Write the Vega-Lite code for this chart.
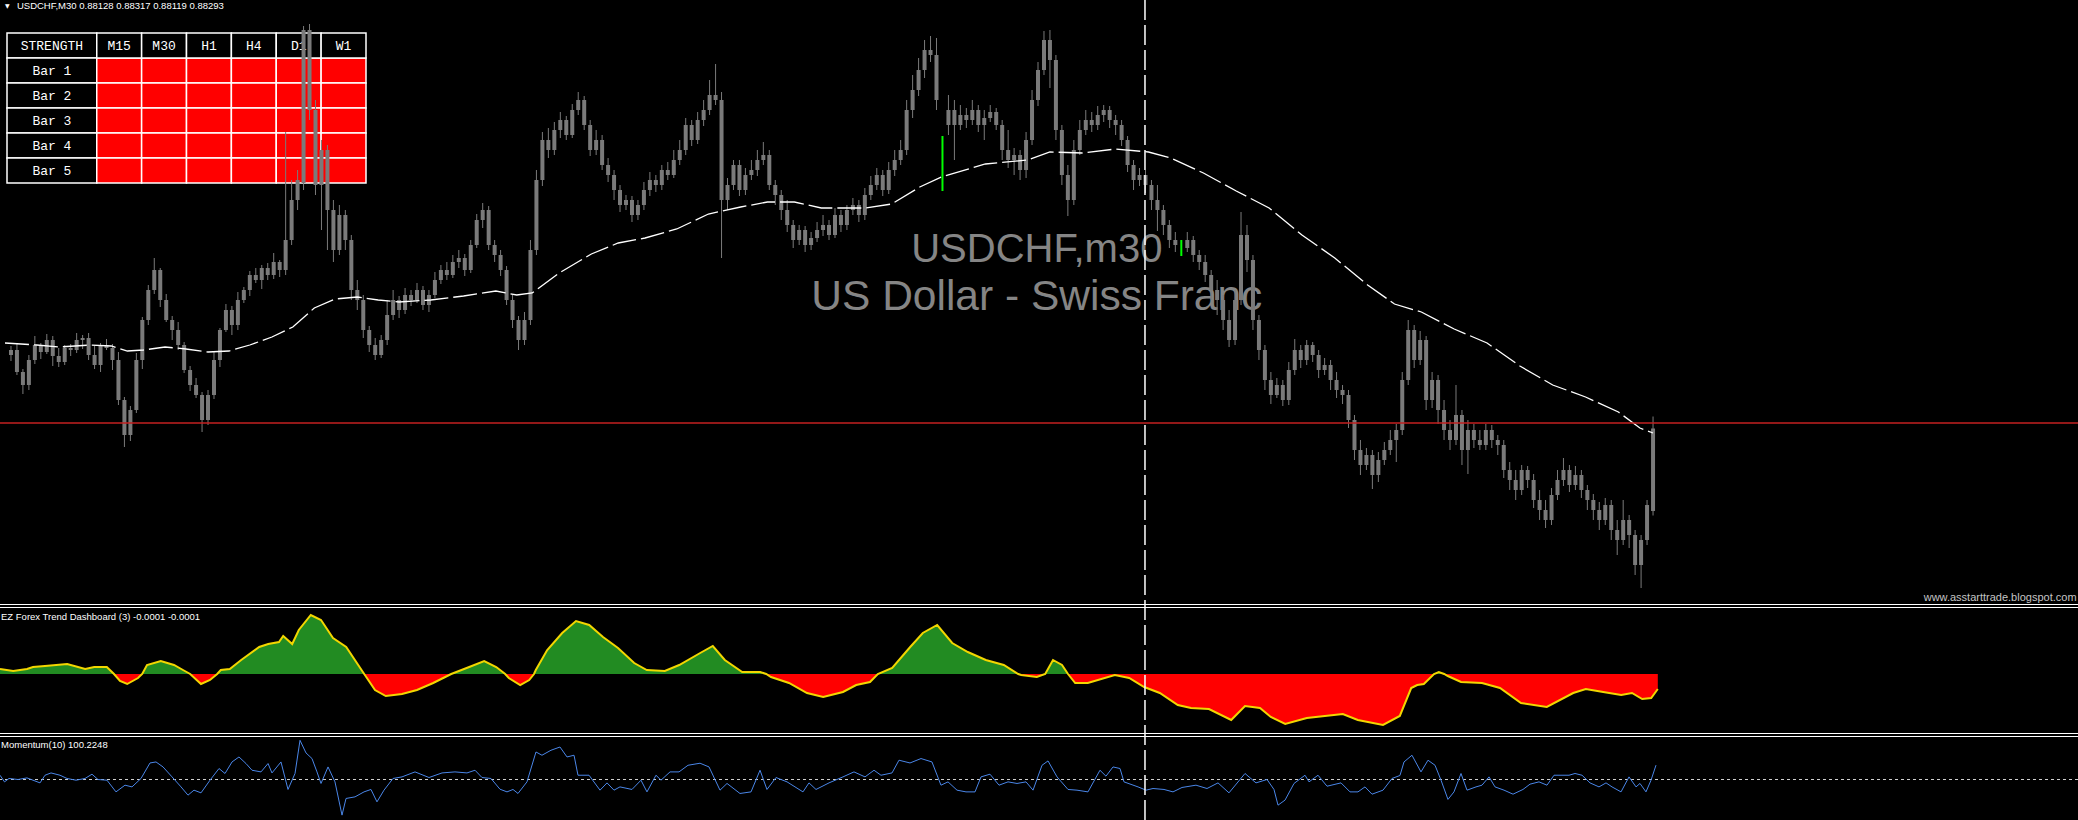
{
"$schema":"https://vega.github.io/schema/vega-lite/v6.json",
"width":2078,"height":820,"autosize":{"type":"none"},"padding":0,"background":"#000000",
"config":{"view":{"stroke":null},"axis":{"disable":true},"legend":{"disable":true}},
"resolve":{"scale":{"x":"independent","y":"independent","color":"independent"}},
"datasets":{
"cells":[
{"bar":"Bar 1","tf":"M15","s":"down"},{"bar":"Bar 1","tf":"M30","s":"down"},{"bar":"Bar 1","tf":"H1","s":"down"},{"bar":"Bar 1","tf":"H4","s":"down"},{"bar":"Bar 1","tf":"D1","s":"down"},{"bar":"Bar 1","tf":"W1","s":"down"},
{"bar":"Bar 2","tf":"M15","s":"down"},{"bar":"Bar 2","tf":"M30","s":"down"},{"bar":"Bar 2","tf":"H1","s":"down"},{"bar":"Bar 2","tf":"H4","s":"down"},{"bar":"Bar 2","tf":"D1","s":"down"},{"bar":"Bar 2","tf":"W1","s":"down"},
{"bar":"Bar 3","tf":"M15","s":"down"},{"bar":"Bar 3","tf":"M30","s":"down"},{"bar":"Bar 3","tf":"H1","s":"down"},{"bar":"Bar 3","tf":"H4","s":"down"},{"bar":"Bar 3","tf":"D1","s":"down"},{"bar":"Bar 3","tf":"W1","s":"down"},
{"bar":"Bar 4","tf":"M15","s":"down"},{"bar":"Bar 4","tf":"M30","s":"down"},{"bar":"Bar 4","tf":"H1","s":"down"},{"bar":"Bar 4","tf":"H4","s":"down"},{"bar":"Bar 4","tf":"D1","s":"down"},{"bar":"Bar 4","tf":"W1","s":"down"},
{"bar":"Bar 5","tf":"M15","s":"down"},{"bar":"Bar 5","tf":"M30","s":"down"},{"bar":"Bar 5","tf":"H1","s":"down"},{"bar":"Bar 5","tf":"H4","s":"down"},{"bar":"Bar 5","tf":"D1","s":"down"},{"bar":"Bar 5","tf":"W1","s":"down"}],
"candles":[
{"i":1,"o":88440,"h":88458,"l":88428,"c":88450},{"i":2,"o":88450,"h":88464,"l":88400,"c":88406},{"i":3,"o":88406,"h":88412,"l":88362,"c":88380},{"i":4,"o":88380,"h":88440,"l":88370,"c":88430},{"i":5,"o":88430,"h":88478,"l":88422,"c":88460},
{"i":6,"o":88460,"h":88464,"l":88432,"c":88446},{"i":7,"o":88446,"h":88482,"l":88442,"c":88470},{"i":8,"o":88470,"h":88478,"l":88418,"c":88438},{"i":9,"o":88438,"h":88454,"l":88416,"c":88426},{"i":10,"o":88426,"h":88460,"l":88420,"c":88454},
{"i":11,"o":88454,"h":88462,"l":88438,"c":88450},{"i":12,"o":88450,"h":88484,"l":88444,"c":88470},{"i":13,"o":88470,"h":88480,"l":88452,"c":88474},{"i":14,"o":88474,"h":88484,"l":88430,"c":88440},{"i":15,"o":88440,"h":88458,"l":88412,"c":88420},
{"i":16,"o":88420,"h":88464,"l":88406,"c":88460},{"i":17,"o":88460,"h":88472,"l":88450,"c":88454},{"i":18,"o":88454,"h":88462,"l":88410,"c":88430},{"i":19,"o":88430,"h":88446,"l":88340,"c":88350},{"i":20,"o":88350,"h":88356,"l":88256,"c":88280},
{"i":21,"o":88280,"h":88338,"l":88268,"c":88330},{"i":22,"o":88330,"h":88444,"l":88324,"c":88430},{"i":23,"o":88430,"h":88516,"l":88412,"c":88510},{"i":24,"o":88510,"h":88580,"l":88500,"c":88570},{"i":25,"o":88570,"h":88634,"l":88562,"c":88610},
{"i":26,"o":88610,"h":88614,"l":88536,"c":88550},{"i":27,"o":88550,"h":88562,"l":88506,"c":88510},{"i":28,"o":88510,"h":88518,"l":88470,"c":88490},{"i":29,"o":88490,"h":88506,"l":88450,"c":88460},{"i":30,"o":88460,"h":88466,"l":88404,"c":88410},
{"i":31,"o":88410,"h":88418,"l":88368,"c":88380},{"i":32,"o":88380,"h":88394,"l":88354,"c":88360},{"i":33,"o":88360,"h":88366,"l":88286,"c":88310},{"i":34,"o":88310,"h":88370,"l":88300,"c":88360},{"i":35,"o":88360,"h":88448,"l":88352,"c":88430},
{"i":36,"o":88430,"h":88494,"l":88416,"c":88490},{"i":37,"o":88490,"h":88542,"l":88486,"c":88530},{"i":38,"o":88530,"h":88538,"l":88480,"c":88500},{"i":39,"o":88500,"h":88566,"l":88490,"c":88550},{"i":40,"o":88550,"h":88576,"l":88544,"c":88570},
{"i":41,"o":88570,"h":88608,"l":88558,"c":88600},{"i":42,"o":88600,"h":88614,"l":88584,"c":88590},{"i":43,"o":88590,"h":88620,"l":88572,"c":88614},{"i":44,"o":88614,"h":88624,"l":88590,"c":88600},{"i":45,"o":88600,"h":88644,"l":88592,"c":88626},
{"i":46,"o":88626,"h":88630,"l":88596,"c":88610},{"i":47,"o":88610,"h":88886,"l":88600,"c":88670},{"i":48,"o":88670,"h":88790,"l":88660,"c":88750},{"i":49,"o":88750,"h":88810,"l":88730,"c":88790},{"i":50,"o":88784,"h":89098,"l":88770,"c":89090},
{"i":51,"o":89090,"h":89102,"l":88910,"c":88930},{"i":52,"o":88930,"h":88950,"l":88760,"c":88780},{"i":53,"o":88780,"h":88870,"l":88690,"c":88850},{"i":54,"o":88850,"h":88860,"l":88650,"c":88730},{"i":55,"o":88730,"h":88750,"l":88626,"c":88650},
{"i":56,"o":88650,"h":88740,"l":88640,"c":88720},{"i":57,"o":88720,"h":88730,"l":88650,"c":88670},{"i":58,"o":88670,"h":88680,"l":88550,"c":88570},{"i":59,"o":88570,"h":88590,"l":88530,"c":88550},{"i":60,"o":88550,"h":88560,"l":88474,"c":88490},
{"i":61,"o":88490,"h":88498,"l":88446,"c":88460},{"i":62,"o":88460,"h":88474,"l":88430,"c":88440},{"i":63,"o":88440,"h":88480,"l":88434,"c":88470},{"i":64,"o":88470,"h":88550,"l":88460,"c":88520},{"i":65,"o":88520,"h":88570,"l":88510,"c":88550},
{"i":66,"o":88550,"h":88558,"l":88514,"c":88530},{"i":67,"o":88530,"h":88574,"l":88522,"c":88560},{"i":68,"o":88560,"h":88570,"l":88538,"c":88550},{"i":69,"o":88550,"h":88584,"l":88544,"c":88570},{"i":70,"o":88570,"h":88578,"l":88530,"c":88540},
{"i":71,"o":88540,"h":88570,"l":88526,"c":88560},{"i":72,"o":88560,"h":88606,"l":88554,"c":88590},{"i":73,"o":88590,"h":88620,"l":88582,"c":88610},{"i":74,"o":88610,"h":88626,"l":88590,"c":88600},{"i":75,"o":88600,"h":88640,"l":88594,"c":88626},
{"i":76,"o":88626,"h":88650,"l":88614,"c":88634},{"i":77,"o":88634,"h":88642,"l":88598,"c":88610},{"i":78,"o":88610,"h":88670,"l":88604,"c":88660},{"i":79,"o":88660,"h":88722,"l":88654,"c":88710},{"i":80,"o":88710,"h":88744,"l":88694,"c":88730},
{"i":81,"o":88730,"h":88738,"l":88650,"c":88660},{"i":82,"o":88660,"h":88670,"l":88626,"c":88640},{"i":83,"o":88640,"h":88650,"l":88598,"c":88610},{"i":84,"o":88610,"h":88618,"l":88540,"c":88550},{"i":85,"o":88550,"h":88560,"l":88494,"c":88510},
{"i":86,"o":88510,"h":88518,"l":88450,"c":88470},{"i":87,"o":88470,"h":88526,"l":88460,"c":88510},{"i":88,"o":88510,"h":88670,"l":88500,"c":88650},{"i":89,"o":88650,"h":88810,"l":88640,"c":88790},{"i":90,"o":88790,"h":88886,"l":88778,"c":88870},
{"i":91,"o":88870,"h":88894,"l":88834,"c":88850},{"i":92,"o":88850,"h":88906,"l":88840,"c":88890},{"i":93,"o":88890,"h":88926,"l":88874,"c":88910},{"i":94,"o":88910,"h":88918,"l":88870,"c":88880},{"i":95,"o":88880,"h":88942,"l":88874,"c":88930},
{"i":96,"o":88930,"h":88966,"l":88920,"c":88950},{"i":97,"o":88950,"h":88958,"l":88890,"c":88900},{"i":98,"o":88900,"h":88910,"l":88838,"c":88850},{"i":99,"o":88850,"h":88890,"l":88840,"c":88870},{"i":100,"o":88870,"h":88880,"l":88810,"c":88820},
{"i":101,"o":88820,"h":88834,"l":88786,"c":88800},{"i":102,"o":88800,"h":88810,"l":88750,"c":88770},{"i":103,"o":88770,"h":88780,"l":88726,"c":88740},{"i":104,"o":88740,"h":88760,"l":88730,"c":88750},{"i":105,"o":88750,"h":88758,"l":88706,"c":88720},
{"i":106,"o":88720,"h":88750,"l":88710,"c":88740},{"i":107,"o":88740,"h":88786,"l":88730,"c":88770},{"i":108,"o":88770,"h":88806,"l":88758,"c":88790},{"i":109,"o":88790,"h":88800,"l":88766,"c":88780},{"i":110,"o":88780,"h":88820,"l":88770,"c":88810},
{"i":111,"o":88810,"h":88826,"l":88790,"c":88800},{"i":112,"o":88800,"h":88850,"l":88794,"c":88830},{"i":113,"o":88830,"h":88870,"l":88820,"c":88850},{"i":114,"o":88850,"h":88914,"l":88840,"c":88900},{"i":115,"o":88900,"h":88910,"l":88858,"c":88870},
{"i":116,"o":88870,"h":88926,"l":88862,"c":88910},{"i":117,"o":88910,"h":88950,"l":88898,"c":88930},{"i":118,"o":88930,"h":88990,"l":88920,"c":88960},{"i":119,"o":88960,"h":89022,"l":88940,"c":88950},{"i":120,"o":88950,"h":88966,"l":88634,"c":88750},
{"i":121,"o":88750,"h":88794,"l":88730,"c":88780},{"i":122,"o":88780,"h":88830,"l":88770,"c":88820},{"i":123,"o":88820,"h":88830,"l":88758,"c":88770},{"i":124,"o":88770,"h":88814,"l":88760,"c":88800},{"i":125,"o":88800,"h":88830,"l":88790,"c":88810},
{"i":126,"o":88810,"h":88850,"l":88798,"c":88830},{"i":127,"o":88830,"h":88866,"l":88820,"c":88840},{"i":128,"o":88840,"h":88850,"l":88770,"c":88780},{"i":129,"o":88780,"h":88790,"l":88740,"c":88760},{"i":130,"o":88760,"h":88770,"l":88710,"c":88730},
{"i":131,"o":88730,"h":88750,"l":88686,"c":88700},{"i":132,"o":88700,"h":88710,"l":88654,"c":88670},{"i":133,"o":88670,"h":88700,"l":88660,"c":88690},{"i":134,"o":88690,"h":88698,"l":88646,"c":88660},{"i":135,"o":88660,"h":88686,"l":88650,"c":88674},
{"i":136,"o":88674,"h":88706,"l":88666,"c":88690},{"i":137,"o":88690,"h":88720,"l":88678,"c":88700},{"i":138,"o":88700,"h":88710,"l":88670,"c":88680},{"i":139,"o":88680,"h":88734,"l":88674,"c":88720},{"i":140,"o":88720,"h":88730,"l":88686,"c":88700},
{"i":141,"o":88700,"h":88740,"l":88690,"c":88730},{"i":142,"o":88730,"h":88754,"l":88720,"c":88740},{"i":143,"o":88740,"h":88750,"l":88706,"c":88720},{"i":144,"o":88720,"h":88774,"l":88710,"c":88760},{"i":145,"o":88760,"h":88798,"l":88750,"c":88780},
{"i":146,"o":88780,"h":88814,"l":88770,"c":88800},{"i":147,"o":88800,"h":88810,"l":88758,"c":88770},{"i":148,"o":88770,"h":88826,"l":88762,"c":88810},{"i":149,"o":88810,"h":88850,"l":88798,"c":88830},{"i":150,"o":88830,"h":88870,"l":88820,"c":88850},
{"i":151,"o":88850,"h":88950,"l":88840,"c":88930},{"i":152,"o":88930,"h":89000,"l":88914,"c":88970},{"i":153,"o":88970,"h":89034,"l":88958,"c":89010},{"i":154,"o":89010,"h":89070,"l":88994,"c":89050},{"i":155,"o":89050,"h":89078,"l":89026,"c":89040},
{"i":156,"o":89040,"h":89074,"l":88930,"c":88950},{"i":157,"o":88868,"h":88878,"l":88768,"c":88868},{"i":158,"o":88900,"h":88960,"l":88880,"c":88930},{"i":159,"o":88930,"h":88950,"l":88830,"c":88900},{"i":160,"o":88900,"h":88940,"l":88890,"c":88920},
{"i":161,"o":88920,"h":88934,"l":88894,"c":88910},{"i":162,"o":88910,"h":88950,"l":88900,"c":88930},{"i":163,"o":88930,"h":88940,"l":88886,"c":88900},{"i":164,"o":88900,"h":88930,"l":88870,"c":88914},{"i":165,"o":88914,"h":88940,"l":88906,"c":88926},
{"i":166,"o":88926,"h":88934,"l":88890,"c":88900},{"i":167,"o":88900,"h":88910,"l":88830,"c":88850},{"i":168,"o":88850,"h":88890,"l":88814,"c":88830},{"i":169,"o":88830,"h":88854,"l":88800,"c":88840},{"i":170,"o":88840,"h":88850,"l":88790,"c":88810},
{"i":171,"o":88810,"h":88886,"l":88794,"c":88870},{"i":172,"o":88870,"h":88970,"l":88860,"c":88950},{"i":173,"o":88950,"h":89026,"l":88938,"c":89010},{"i":174,"o":89010,"h":89088,"l":89000,"c":89070},{"i":175,"o":89070,"h":89090,"l":88974,"c":89030},
{"i":176,"o":89030,"h":89040,"l":88870,"c":88890},{"i":177,"o":88890,"h":88900,"l":88780,"c":88800},{"i":178,"o":88800,"h":88820,"l":88718,"c":88750},{"i":179,"o":88750,"h":88870,"l":88740,"c":88850},{"i":180,"o":88850,"h":88910,"l":88840,"c":88890},
{"i":181,"o":88890,"h":88930,"l":88880,"c":88910},{"i":182,"o":88910,"h":88926,"l":88886,"c":88900},{"i":183,"o":88900,"h":88938,"l":88890,"c":88920},{"i":184,"o":88920,"h":88940,"l":88906,"c":88930},{"i":185,"o":88930,"h":88938,"l":88894,"c":88910},
{"i":186,"o":88910,"h":88920,"l":88880,"c":88900},{"i":187,"o":88900,"h":88910,"l":88858,"c":88870},{"i":188,"o":88870,"h":88878,"l":88806,"c":88820},{"i":189,"o":88820,"h":88830,"l":88770,"c":88790},{"i":190,"o":88790,"h":88814,"l":88778,"c":88800},
{"i":191,"o":88800,"h":88810,"l":88764,"c":88780},{"i":192,"o":88780,"h":88790,"l":88730,"c":88750},{"i":193,"o":88750,"h":88780,"l":88688,"c":88730},{"i":194,"o":88730,"h":88740,"l":88680,"c":88700},{"i":195,"o":88700,"h":88710,"l":88654,"c":88670},
{"i":196,"o":88670,"h":88686,"l":88646,"c":88660},{"i":197,"o":88654,"h":88670,"l":88638,"c":88654},{"i":198,"o":88654,"h":88686,"l":88646,"c":88670},{"i":199,"o":88670,"h":88678,"l":88626,"c":88640},{"i":200,"o":88640,"h":88650,"l":88610,"c":88626},
{"i":201,"o":88626,"h":88640,"l":88586,"c":88600},{"i":202,"o":88600,"h":88610,"l":88550,"c":88570},{"i":203,"o":88570,"h":88590,"l":88520,"c":88550},{"i":204,"o":88550,"h":88560,"l":88490,"c":88510},{"i":205,"o":88510,"h":88530,"l":88456,"c":88470},
{"i":206,"o":88470,"h":88570,"l":88460,"c":88550},{"i":207,"o":88550,"h":88726,"l":88540,"c":88680},{"i":208,"o":88680,"h":88700,"l":88606,"c":88630},{"i":209,"o":88630,"h":88640,"l":88490,"c":88510},{"i":210,"o":88510,"h":88520,"l":88430,"c":88450},
{"i":211,"o":88450,"h":88460,"l":88370,"c":88390},{"i":212,"o":88390,"h":88406,"l":88342,"c":88360},{"i":213,"o":88360,"h":88394,"l":88354,"c":88380},{"i":214,"o":88380,"h":88390,"l":88338,"c":88350},{"i":215,"o":88350,"h":88426,"l":88340,"c":88410},
{"i":216,"o":88410,"h":88472,"l":88400,"c":88450},{"i":217,"o":88450,"h":88460,"l":88414,"c":88430},{"i":218,"o":88430,"h":88470,"l":88420,"c":88460},{"i":219,"o":88460,"h":88466,"l":88426,"c":88440},{"i":220,"o":88440,"h":88450,"l":88394,"c":88410},
{"i":221,"o":88410,"h":88434,"l":88400,"c":88420},{"i":222,"o":88420,"h":88430,"l":88370,"c":88390},{"i":223,"o":88390,"h":88406,"l":88354,"c":88370},{"i":224,"o":88370,"h":88380,"l":88342,"c":88360},{"i":225,"o":88360,"h":88370,"l":88294,"c":88310},
{"i":226,"o":88310,"h":88320,"l":88230,"c":88250},{"i":227,"o":88250,"h":88270,"l":88200,"c":88220},{"i":228,"o":88220,"h":88254,"l":88210,"c":88240},{"i":229,"o":88240,"h":88250,"l":88172,"c":88200},{"i":230,"o":88200,"h":88246,"l":88186,"c":88230},
{"i":231,"o":88230,"h":88266,"l":88220,"c":88250},{"i":232,"o":88250,"h":88290,"l":88240,"c":88270},{"i":233,"o":88270,"h":88302,"l":88226,"c":88290},{"i":234,"o":88290,"h":88406,"l":88280,"c":88390},{"i":235,"o":88390,"h":88510,"l":88380,"c":88490},
{"i":236,"o":88490,"h":88500,"l":88414,"c":88430},{"i":237,"o":88430,"h":88488,"l":88420,"c":88470},{"i":238,"o":88470,"h":88478,"l":88330,"c":88350},{"i":239,"o":88350,"h":88406,"l":88334,"c":88390},{"i":240,"o":88390,"h":88400,"l":88302,"c":88330},
{"i":241,"o":88330,"h":88350,"l":88270,"c":88290},{"i":242,"o":88290,"h":88310,"l":88250,"c":88270},{"i":243,"o":88270,"h":88380,"l":88260,"c":88320},{"i":244,"o":88320,"h":88330,"l":88220,"c":88250},{"i":245,"o":88250,"h":88310,"l":88202,"c":88290},
{"i":246,"o":88290,"h":88302,"l":88254,"c":88270},{"i":247,"o":88270,"h":88290,"l":88250,"c":88260},{"i":248,"o":88260,"h":88302,"l":88250,"c":88290},{"i":249,"o":88290,"h":88300,"l":88254,"c":88270},{"i":250,"o":88270,"h":88280,"l":88240,"c":88260},
{"i":251,"o":88260,"h":88270,"l":88194,"c":88210},{"i":252,"o":88210,"h":88226,"l":88170,"c":88190},{"i":253,"o":88190,"h":88210,"l":88150,"c":88170},{"i":254,"o":88170,"h":88220,"l":88160,"c":88210},{"i":255,"o":88210,"h":88218,"l":88174,"c":88190},
{"i":256,"o":88190,"h":88202,"l":88134,"c":88150},{"i":257,"o":88150,"h":88170,"l":88110,"c":88130},{"i":258,"o":88130,"h":88150,"l":88094,"c":88110},{"i":259,"o":88110,"h":88174,"l":88100,"c":88160},{"i":260,"o":88160,"h":88210,"l":88150,"c":88190},
{"i":261,"o":88190,"h":88234,"l":88178,"c":88210},{"i":262,"o":88210,"h":88220,"l":88166,"c":88180},{"i":263,"o":88180,"h":88218,"l":88170,"c":88200},{"i":264,"o":88200,"h":88210,"l":88154,"c":88170},{"i":265,"o":88170,"h":88180,"l":88130,"c":88150},
{"i":266,"o":88150,"h":88162,"l":88110,"c":88130},{"i":267,"o":88130,"h":88146,"l":88090,"c":88110},{"i":268,"o":88110,"h":88154,"l":88100,"c":88140},{"i":269,"o":88140,"h":88150,"l":88070,"c":88090},{"i":270,"o":88090,"h":88110,"l":88040,"c":88070},
{"i":271,"o":88070,"h":88150,"l":88060,"c":88110},{"i":272,"o":88110,"h":88120,"l":88054,"c":88080},{"i":273,"o":88080,"h":88090,"l":88000,"c":88020},{"i":274,"o":88020,"h":88080,"l":87974,"c":88070},{"i":275,"o":88070,"h":88150,"l":88060,"c":88140},
{"i":276,"o":88128,"h":88317,"l":88119,"c":88293}],
"ma":[
{"i":0,"p":88464},{"i":5.3,"p":88460},{"i":9,"p":88456},{"i":14.3,"p":88460},{"i":17.8,"p":88458},{"i":20.5,"p":88448},{"i":23.2,"p":88450},{"i":26.8,"p":88456},{"i":30.3,"p":88452},{"i":34,"p":88446},
{"i":37.5,"p":88448},{"i":41,"p":88460},{"i":44.7,"p":88476},{"i":48.2,"p":88496},{"i":51.8,"p":88534},{"i":55.3,"p":88552},{"i":59,"p":88556},{"i":62.5,"p":88550},{"i":66,"p":88546},{"i":71.3,"p":88550},
{"i":76.8,"p":88558},{"i":82.2,"p":88568},{"i":85.7,"p":88560},{"i":88.3,"p":88564},{"i":92.8,"p":88604},{"i":98.2,"p":88642},{"i":102.7,"p":88664},{"i":107.2,"p":88674},{"i":112.5,"p":88692},{"i":117.8,"p":88722},
{"i":123.2,"p":88736},{"i":127.7,"p":88746},{"i":132.2,"p":88746},{"i":136.7,"p":88734},{"i":144,"p":88734},{"i":148.5,"p":88742},{"i":153.2,"p":88776},{"i":156.8,"p":88796},{"i":164.2,"p":88822},{"i":171.3,"p":88830},
{"i":175,"p":88846},{"i":180.5,"p":88844},{"i":186,"p":88852},{"i":191.5,"p":88846},{"i":195.2,"p":88834},{"i":200.7,"p":88804},{"i":206.2,"p":88768},{"i":211.7,"p":88734},{"i":217.2,"p":88680},{"i":222.7,"p":88634},
{"i":228.2,"p":88580},{"i":232.7,"p":88542},{"i":237.2,"p":88526},{"i":242.7,"p":88492},{"i":248.2,"p":88464},{"i":253.7,"p":88418},{"i":259.2,"p":88380},{"i":264.7,"p":88356},{"i":270.2,"p":88326},{"i":273.8,"p":88294},{"i":276,"p":88284}],
"ez":[
{"i":0,"e":5},{"i":2.2,"e":3},{"i":4.5,"e":5},{"i":5.5,"e":7},{"i":7.5,"e":8},{"i":11.2,"e":10},{"i":14.2,"e":5},{"i":15.7,"e":7},{"i":17.8,"e":7},{"i":19,"e":0},
{"i":20,"e":-7},{"i":21.2,"e":-10},{"i":23,"e":-4},{"i":23.7,"e":0},{"i":24.5,"e":9},{"i":26.8,"e":13},{"i":29,"e":9},{"i":30.5,"e":4},{"i":31.7,"e":0},{"i":33.5,"e":-10},
{"i":35,"e":-6},{"i":36.2,"e":0},{"i":36.8,"e":4},{"i":38.3,"e":5},{"i":40.2,"e":14},{"i":43.2,"e":27},{"i":44.7,"e":30},{"i":46.5,"e":32},{"i":47.2,"e":38},{"i":48.7,"e":30},
{"i":49.8,"e":44},{"i":51.8,"e":59},{"i":53.5,"e":54},{"i":55.5,"e":36},{"i":57.7,"e":27},{"i":60.7,"e":0},{"i":62.5,"e":-16},{"i":64.3,"e":-22},{"i":67,"e":-20},{"i":69.5,"e":-16},
{"i":72.2,"e":-9},{"i":75.2,"e":0},{"i":78.2,"e":7},{"i":80.7,"e":13},{"i":82.7,"e":7},{"i":84.2,"e":0},{"i":84.8,"e":-4},{"i":86.7,"e":-11},{"i":88.2,"e":-6},{"i":89,"e":0},
{"i":89.3,"e":4},{"i":91.2,"e":24},{"i":93.7,"e":41},{"i":96,"e":53},{"i":98.2,"e":49},{"i":100.5,"e":37},{"i":103,"e":26},{"i":105.7,"e":11},{"i":107.8,"e":4},{"i":110.8,"e":3},
{"i":113.2,"e":9},{"i":116.7,"e":21},{"i":118.8,"e":28},{"i":120.8,"e":14},{"i":123.7,"e":2},{"i":126.7,"e":2},{"i":127.7,"e":0},{"i":128.5,"e":-3},{"i":131.5,"e":-9},{"i":134.5,"e":-19},
{"i":137.2,"e":-23},{"i":140.5,"e":-18},{"i":142.7,"e":-11},{"i":145,"e":-8},{"i":146.3,"e":0},{"i":148.7,"e":6},{"i":151.7,"e":27},{"i":153.8,"e":41},{"i":156.2,"e":49},{"i":158.7,"e":31},
{"i":161.3,"e":22},{"i":164.3,"e":14},{"i":167.3,"e":9},{"i":169.7,"e":0},{"i":170.2,"e":-1},{"i":172.8,"e":-3},{"i":174.2,"e":0},{"i":175.5,"e":14},{"i":177,"e":9},{"i":178,"e":0},
{"i":179.2,"e":-9},{"i":181.3,"e":-9},{"i":185.8,"e":-1},{"i":188.2,"e":-4},{"i":190.7,"e":-13},{"i":193.3,"e":-19},{"i":196.3,"e":-31},{"i":198.5,"e":-34},{"i":201.5,"e":-35},{"i":205.2,"e":-46},
{"i":207.5,"e":-32},{"i":210,"e":-34},{"i":211.8,"e":-43},{"i":214.2,"e":-50},{"i":217.8,"e":-44},{"i":220.8,"e":-42},{"i":223.8,"e":-40},{"i":226.3,"e":-46},{"i":230.5,"e":-51},{"i":233.3,"e":-42},
{"i":235.2,"e":-14},{"i":236.2,"e":-11},{"i":237.3,"e":-10},{"i":239,"e":0},{"i":239.8,"e":2},{"i":240.7,"e":0},{"i":241.3,"e":-2},{"i":243.5,"e":-8},{"i":247,"e":-9},{"i":250,"e":-14},
{"i":253.5,"e":-29},{"i":257.8,"e":-33},{"i":262.2,"e":-19},{"i":264.3,"e":-15},{"i":267.2,"e":-18},{"i":270.2,"e":-21},{"i":272,"e":-19},{"i":273.7,"e":-25},{"i":275.2,"e":-24},{"i":276.3,"e":-15}],
"mom":[
{"i":0,"m":100.067},{"i":0.75,"m":99.963},{"i":1.5,"m":100.016},{"i":3,"m":100.0},{"i":4.5,"m":100.025},{"i":6.67,"m":99.947},{"i":7.5,"m":100.067},{"i":8.5,"m":100.103},{"i":10,"m":100.067},{"i":11.17,"m":100.016},
{"i":12.67,"m":99.989},{"i":14.17,"m":100.016},{"i":15.33,"m":100.083},{"i":16.33,"m":100.0},{"i":17.83,"m":99.989},{"i":19.33,"m":99.806},{"i":20.83,"m":99.911},{"i":22,"m":99.884},{"i":23.5,"m":100.016},{"i":25,"m":100.259},
{"i":26,"m":100.275},{"i":27.17,"m":100.197},{"i":28.67,"m":100.041},{"i":30.17,"m":99.884},{"i":31.33,"m":99.755},{"i":32.33,"m":99.833},{"i":33.5,"m":99.791},{"i":35,"m":99.989},{"i":36.5,"m":100.172},{"i":37.5,"m":100.094},
{"i":38.67,"m":100.275},{"i":39.83,"m":100.353},{"i":41,"m":100.25},{"i":42,"m":100.145},{"i":43.5,"m":100.119},{"i":44.67,"m":100.25},{"i":45.33,"m":100.103},{"i":46.83,"m":100.275},{"i":48,"m":99.844},{"i":49.17,"m":100.094},
{"i":50,"m":100.614},{"i":51,"m":100.416},{"i":52,"m":100.328},{"i":52.83,"m":100.119},{"i":53.5,"m":99.938},{"i":54.67,"m":100.197},{"i":55.83,"m":99.963},{"i":57,"m":99.442},{"i":57.67,"m":99.703},{"i":59.17,"m":99.728},
{"i":60.67,"m":99.806},{"i":61.83,"m":99.844},{"i":62.83,"m":99.65},{"i":64,"m":99.833},{"i":65.5,"m":100.016},{"i":67,"m":100.041},{"i":69.17,"m":100.119},{"i":71.5,"m":100.031},{"i":73.67,"m":100.103},{"i":75.83,"m":100.119},
{"i":77.83,"m":100.103},{"i":79.17,"m":100.145},{"i":80.33,"m":100.031},{"i":81.83,"m":100.016},{"i":83.33,"m":99.848},{"i":84.5,"m":99.806},{"i":85.5,"m":99.844},{"i":86.33,"m":99.781},{"i":87.83,"m":99.963},{"i":89.33,"m":100.431},
{"i":90.33,"m":100.38},{"i":91.83,"m":100.458},{"i":93.33,"m":100.509},{"i":94.5,"m":100.353},{"i":95.67,"m":100.38},{"i":96.33,"m":100.067},{"i":98.17,"m":100.067},{"i":100,"m":99.833},{"i":101.17,"m":99.947},{"i":102.33,"m":99.833},
{"i":103.33,"m":99.884},{"i":105.33,"m":99.844},{"i":106.83,"m":99.989},{"i":107.83,"m":99.806},{"i":109.33,"m":100.067},{"i":110.17,"m":99.989},{"i":111.67,"m":100.119},{"i":113.17,"m":100.119},{"i":114.67,"m":100.223},{"i":116.67,"m":100.255},
{"i":118.17,"m":100.197},{"i":120,"m":99.833},{"i":121.17,"m":99.938},{"i":123.33,"m":99.781},{"i":125.17,"m":99.806},{"i":126.67,"m":100.145},{"i":127.83,"m":99.844},{"i":129.33,"m":100.031},{"i":131.17,"m":99.963},{"i":133.83,"m":99.806},
{"i":134.83,"m":99.947},{"i":136,"m":99.844},{"i":138.17,"m":99.947},{"i":140.5,"m":100.041},{"i":142.33,"m":100.119},{"i":144.17,"m":100.041},{"i":145.67,"m":100.145},{"i":146.83,"m":100.067},{"i":148.67,"m":100.103},{"i":149.83,"m":100.302},
{"i":151.67,"m":100.259},{"i":153.5,"m":100.328},{"i":155.33,"m":100.275},{"i":156.83,"m":99.911},{"i":158,"m":99.963},{"i":159.5,"m":99.833},{"i":161,"m":99.806},{"i":162.5,"m":99.806},{"i":163.5,"m":100.041},{"i":165,"m":100.083},
{"i":166.5,"m":99.911},{"i":168,"m":99.963},{"i":169.5,"m":99.938},{"i":171,"m":99.963},{"i":172.17,"m":99.833},{"i":173.67,"m":100.223},{"i":174.67,"m":100.291},{"i":176.17,"m":100.041},{"i":178,"m":99.844},{"i":179.5,"m":99.833},
{"i":181.33,"m":99.806},{"i":183.33,"m":100.145},{"i":184.33,"m":100.052},{"i":185.5,"m":100.197},{"i":186.67,"m":100.172},{"i":187.33,"m":99.963},{"i":189.67,"m":99.884},{"i":191,"m":99.833},{"i":192.17,"m":99.859},{"i":194,"m":99.844},
{"i":195.5,"m":99.806},{"i":197,"m":99.875},{"i":199.33,"m":99.911},{"i":201.17,"m":99.859},{"i":203,"m":99.947},{"i":204.83,"m":99.791},{"i":207.5,"m":100.094},{"i":209.33,"m":99.947},{"i":211.17,"m":100.0},{"i":212.33,"m":99.844},
{"i":213,"m":99.598},{"i":214.17,"m":99.677},{"i":215.67,"m":99.938},{"i":217.5,"m":100.067},{"i":218.17,"m":99.963},{"i":219.67,"m":100.067},{"i":221.17,"m":99.895},{"i":223.5,"m":99.947},{"i":225,"m":99.806},{"i":226.33,"m":99.806},
{"i":227.5,"m":99.884},{"i":228.67,"m":99.77},{"i":230.5,"m":99.833},{"i":232,"m":100.016},{"i":233.33,"m":100.063},{"i":234,"m":100.275},{"i":235.33,"m":100.38},{"i":236.83,"m":100.119},{"i":238,"m":100.302},{"i":239.17,"m":100.223},
{"i":240.17,"m":99.989},{"i":241.33,"m":99.688},{"i":242.33,"m":99.806},{"i":243.5,"m":100.094},{"i":244.5,"m":99.833},{"i":246,"m":99.884},{"i":247,"m":99.911},{"i":248.17,"m":100.041},{"i":249.17,"m":99.884},{"i":250.67,"m":99.833},
{"i":252.17,"m":99.77},{"i":253.83,"m":99.844},{"i":255,"m":99.927},{"i":256.5,"m":99.963},{"i":257.83,"m":99.911},{"i":259,"m":100.067},{"i":261.5,"m":100.067},{"i":262.5,"m":100.094},{"i":263.67,"m":100.067},{"i":265,"m":99.947},
{"i":266.5,"m":99.884},{"i":267.67,"m":99.947},{"i":268.67,"m":99.884},{"i":270.17,"m":99.806},{"i":271.5,"m":100.041},{"i":272.67,"m":99.884},{"i":273.33,"m":99.938},{"i":274.33,"m":99.806},{"i":275.17,"m":99.989},{"i":276,"m":100.2248}]
},
"layer":[
{
 "data":{"values":[{"bar":"STRENGTH"},{"bar":"Bar 1"},{"bar":"Bar 2"},{"bar":"Bar 3"},{"bar":"Bar 4"},{"bar":"Bar 5"}]},
 "encoding":{
  "x":{"datum":"STRENGTH","type":"nominal","scale":{"domain":["STRENGTH"],"range":[7,96.75],"paddingInner":0,"paddingOuter":0}},
  "y":{"field":"bar","type":"nominal","scale":{"domain":["STRENGTH","Bar 1","Bar 2","Bar 3","Bar 4","Bar 5"],"range":[33,183],"paddingInner":0,"paddingOuter":0}}
 },
 "layer":[
  {"mark":{"type":"rect","fill":"#000000","stroke":"#ffffff","strokeWidth":1.5}},
  {"mark":{"type":"text","color":"#ffffff","font":"Liberation Mono","fontSize":13},"encoding":{"text":{"field":"bar"}}}
 ]
},
{
 "encoding":{
  "x":{"field":"tf","type":"nominal","scale":{"domain":["M15","M30","H1","H4","D1","W1"],"range":[96.75,366],"paddingInner":0,"paddingOuter":0}},
  "y":{"field":"bar","type":"nominal","scale":{"domain":["STRENGTH","Bar 1","Bar 2","Bar 3","Bar 4","Bar 5"],"range":[33,183],"paddingInner":0,"paddingOuter":0}}
 },
 "layer":[
  {"data":{"name":"cells"},"mark":{"type":"rect","stroke":"#ffffff","strokeWidth":1.5},
   "encoding":{"fill":{"field":"s","type":"nominal","scale":{"domain":["up","down"],"range":["#00c000","#ff0000"]}}}},
  {"data":{"values":[{"tf":"M15"},{"tf":"M30"},{"tf":"H1"},{"tf":"H4"},{"tf":"D1"},{"tf":"W1"}]},"mark":{"type":"rect","fill":"#000000","stroke":"#ffffff","strokeWidth":1.5},
   "encoding":{"y":{"datum":"STRENGTH","type":"nominal"}}},
  {"data":{"values":[{"tf":"M15"},{"tf":"M30"},{"tf":"H1"},{"tf":"H4"},{"tf":"D1"},{"tf":"W1"}]},"mark":{"type":"text","color":"#ffffff","font":"Liberation Mono","fontSize":13},
   "encoding":{"y":{"datum":"STRENGTH","type":"nominal"},"text":{"field":"tf"}}}
 ]
},
{
 "layer":[
  {"data":{"values":[{}]},"mark":{"type":"text","text":"USDCHF,m30","font":"Liberation Sans","fontSize":40,"color":"#858585","align":"center","baseline":"alphabetic"},
   "encoding":{"x":{"datum":172.8,"type":"quantitative","scale":{"domain":[0,346.333],"nice":false,"zero":false}},"y":{"datum":88626,"type":"quantitative","scale":{"domain":[87942,89150],"range":[604,0],"nice":false,"zero":false}}}},
  {"data":{"values":[{}]},"mark":{"type":"text","text":"US Dollar - Swiss Franc","font":"Liberation Sans","fontSize":42.5,"color":"#858585","align":"center","baseline":"alphabetic"},
   "encoding":{"x":{"datum":172.8,"type":"quantitative","scale":{"domain":[0,346.333],"nice":false,"zero":false}},"y":{"datum":88530,"type":"quantitative","scale":{"domain":[87942,89150],"range":[604,0],"nice":false,"zero":false}}}},
  {"data":{"values":[{}]},"mark":{"type":"text","text":"USDCHF,M30  0.88128 0.88317 0.88119 0.88293","font":"Liberation Sans","fontSize":9.5,"color":"#ffffff","align":"left","baseline":"alphabetic"},
   "encoding":{"x":{"datum":2,"type":"quantitative","scale":{"domain":[0,346.333],"nice":false,"zero":false}},"y":{"datum":89132,"type":"quantitative","scale":{"domain":[87942,89150],"range":[604,0],"nice":false,"zero":false}}}},
  {"data":{"values":[{}]},"mark":{"type":"text","text":"▼","font":"DejaVu Sans","fontSize":6,"color":"#ffffff","align":"left","baseline":"alphabetic"},
   "encoding":{"x":{"datum":0,"type":"quantitative","scale":{"domain":[0,346.333],"nice":false,"zero":false}},"y":{"datum":89134,"type":"quantitative","scale":{"domain":[87942,89150],"range":[604,0],"nice":false,"zero":false}}}},
  {"data":{"values":[{}]},"mark":{"type":"text","text":"www.asstarttrade.blogspot.com","font":"Liberation Sans","fontSize":11,"color":"#c4c4c4","align":"left","baseline":"alphabetic"},
   "encoding":{"x":{"datum":321.33,"type":"quantitative","scale":{"domain":[0,346.333],"nice":false,"zero":false}},"y":{"datum":87948,"type":"quantitative","scale":{"domain":[87942,89150],"range":[604,0],"nice":false,"zero":false}}}},
  {"data":{"name":"candles"},"mark":{"type":"rule"},
   "encoding":{"x":{"field":"i","type":"quantitative","scale":{"domain":[0,346.333],"nice":false,"zero":false}},"y":{"field":"h","type":"quantitative","scale":{"domain":[87942,89150],"range":[604,0],"nice":false,"zero":false}},"y2":{"field":"l"},
    "color":{"condition":{"test":"datum.o == datum.c","value":"#00ff00"},"value":"#7a7a7a"},
    "strokeWidth":{"condition":{"test":"datum.o == datum.c","value":2},"value":1}}},
  {"data":{"name":"candles"},"mark":{"type":"bar","size":4,"color":"#7a7a7a"},
   "encoding":{"x":{"field":"i","type":"quantitative","scale":{"domain":[0,346.333],"nice":false,"zero":false}},"y":{"field":"o","type":"quantitative","scale":{"domain":[87942,89150],"range":[604,0],"nice":false,"zero":false}},"y2":{"field":"c"}}},
  {"data":{"name":"ma"},"mark":{"type":"line","color":"#ffffff","strokeWidth":1.3,"strokeDash":[24,5]},
   "encoding":{"x":{"field":"i","type":"quantitative","scale":{"domain":[0,346.333],"nice":false,"zero":false}},"y":{"field":"p","type":"quantitative","scale":{"domain":[87942,89150],"range":[604,0],"nice":false,"zero":false}}}},
  {"data":{"values":[{}]},"mark":{"type":"rule","color":"#c42020","strokeWidth":1.5},
   "encoding":{"y":{"datum":88304,"type":"quantitative","scale":{"domain":[87942,89150],"range":[604,0],"nice":false,"zero":false}}}}
 ]
},
{
 "layer":[
  {"data":{"name":"ez"},"transform":[{"filter":"datum.e >= 0"}],"mark":{"type":"area","color":"#228b22"},
   "encoding":{"x":{"field":"i","type":"quantitative","scale":{"domain":[0,346.333],"nice":false,"zero":false}},"y":{"field":"e","type":"quantitative","scale":{"domain":[-62,69],"range":[736,605],"nice":false,"zero":false}},"y2":{"datum":0}}},
  {"data":{"name":"ez"},"transform":[{"filter":"datum.e <= 0"}],"mark":{"type":"area","color":"#ff0000"},
   "encoding":{"x":{"field":"i","type":"quantitative","scale":{"domain":[0,346.333],"nice":false,"zero":false}},"y":{"field":"e","type":"quantitative","scale":{"domain":[-62,69],"range":[736,605],"nice":false,"zero":false}},"y2":{"datum":0}}},
  {"data":{"name":"ez"},"mark":{"type":"line","color":"#f2d600","strokeWidth":2},
   "encoding":{"x":{"field":"i","type":"quantitative","scale":{"domain":[0,346.333],"nice":false,"zero":false}},"y":{"field":"e","type":"quantitative","scale":{"domain":[-62,69],"range":[736,605],"nice":false,"zero":false}}}},
  {"data":{"values":[{}]},"mark":{"type":"text","text":"EZ Forex Trend Dashboard (3) -0.0001 -0.0001","font":"Liberation Sans","fontSize":9.5,"color":"#ffffff","align":"left","baseline":"alphabetic"},
   "encoding":{"x":{"datum":0.17,"type":"quantitative","scale":{"domain":[0,346.333],"nice":false,"zero":false}},"y":{"datum":54,"type":"quantitative","scale":{"domain":[-62,69],"range":[736,605],"nice":false,"zero":false}}}},
  {"data":{"values":[{}]},"mark":{"type":"rule","color":"#ffffff","strokeWidth":1},"encoding":{"y":{"datum":69.5,"type":"quantitative","scale":{"domain":[-62,69],"range":[736,605],"nice":false,"zero":false}}}},
  {"data":{"values":[{}]},"mark":{"type":"rule","color":"#ffffff","strokeWidth":1},"encoding":{"y":{"datum":66.5,"type":"quantitative","scale":{"domain":[-62,69],"range":[736,605],"nice":false,"zero":false}}}},
  {"data":{"values":[{}]},"mark":{"type":"rule","color":"#ffffff","strokeWidth":1},"encoding":{"y":{"datum":-59.5,"type":"quantitative","scale":{"domain":[-62,69],"range":[736,605],"nice":false,"zero":false}}}},
  {"data":{"values":[{}]},"mark":{"type":"rule","color":"#ffffff","strokeWidth":1},"encoding":{"y":{"datum":-62.5,"type":"quantitative","scale":{"domain":[-62,69],"range":[736,605],"nice":false,"zero":false}}}}
 ]
},
{
 "layer":[
  {"data":{"values":[{}]},"mark":{"type":"rule","color":"#d0d0d0","strokeWidth":1,"strokeDash":[3,3]},
   "encoding":{"y":{"datum":100,"type":"quantitative","scale":{"domain":[99.35,100.65],"range":[821,738],"nice":false,"zero":false}}}},
  {"data":{"name":"mom"},"mark":{"type":"line","color":"#4a86e8","strokeWidth":1},
   "encoding":{"x":{"field":"i","type":"quantitative","scale":{"domain":[0,346.333],"nice":false,"zero":false}},"y":{"field":"m","type":"quantitative","scale":{"domain":[99.35,100.65],"range":[821,738],"nice":false,"zero":false}}}},
  {"data":{"values":[{}]},"mark":{"type":"text","text":"Momentum(10) 100.2248","font":"Liberation Sans","fontSize":9.5,"color":"#ffffff","align":"left","baseline":"alphabetic"},
   "encoding":{"x":{"datum":0.17,"type":"quantitative","scale":{"domain":[0,346.333],"nice":false,"zero":false}},"y":{"datum":100.493,"type":"quantitative","scale":{"domain":[99.35,100.65],"range":[821,738],"nice":false,"zero":false}}}}
 ]
},
{
 "data":{"values":[{}]},
 "mark":{"type":"rule","color":"#ffffff","strokeWidth":1.5,"strokeDash":[20,5]},
 "encoding":{"x":{"datum":190.83,"type":"quantitative","scale":{"domain":[0,346.333],"nice":false,"zero":false}}}
}
]
}
